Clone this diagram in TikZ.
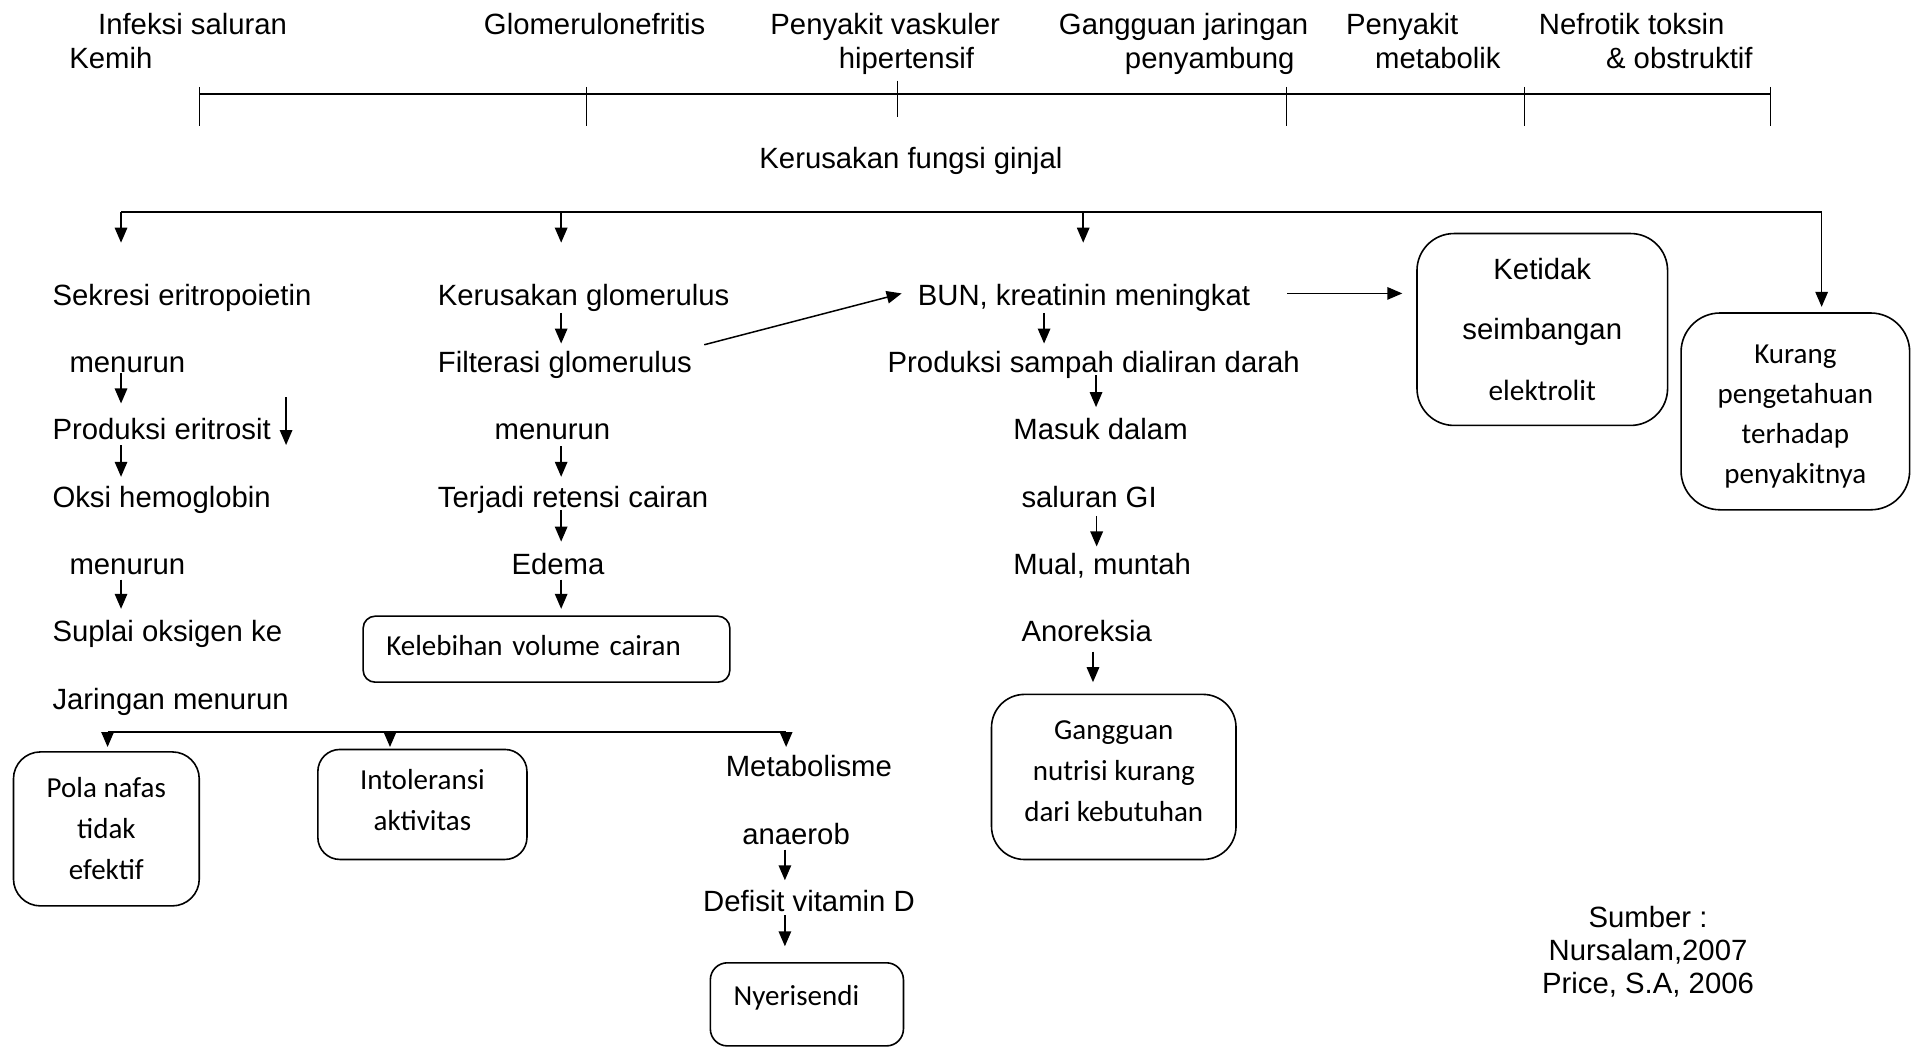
\documentclass[tikz,border=0pt]{standalone}
\usepackage{fontspec}
\setmainfont{Liberation Sans}
\newfontfamily\clbfont{Carlito}
\usetikzlibrary{arrows.meta}
\newcommand\mydp[1]{\rule[-#1]{0pt}{0pt}}
\newcommand\myht[1]{\rule{0pt}{#1}}
\begin{document}
\begin{tikzpicture}[x=1.2226pt,y=-1.2226pt,
  every node/.style={inner sep=0pt},
  lbl/.style={anchor=base west, font=\fontsize{29.3}{34}\selectfont},
  rbox/.style={draw, line width=1.6pt, align=center, font=\clbfont\fontsize{29}{41}\selectfont},
  arr/.style={line width=1.5pt, -{Triangle[length=15pt,width=12.5pt]}},
  bar/.style={line width=2pt},
  tickline/.style={line width=1.1pt}]

\fill[white] (0,0) rectangle (1568,857);
\useasboundingbox (0,0) rectangle (1568,857);

% ---------- top causes ----------
\node[lbl] (t1a) at (80.1,28.6) {Infeksi saluran};
\node[lbl] (t1b) at (56.6,56) {Kemih};
\node[lbl] (t2)  at (395.7,28.6) {Glomerulonefritis};
\node[lbl] (t3a) at (630,28.6) {Penyakit vaskuler};
\node[lbl] (t3b) at (686,56) {hipertensif};
\node[lbl] (t4a) at (866,28.6) {Gangguan jaringan};
\node[lbl] (t4b) at (920,56) {penyambung};
\node[lbl] (t5a) at (1100.8,28.6) {Penyakit};
\node[lbl] (t5b) at (1124.7,56) {metabolik};
\node[lbl] (t6a) at (1258.6,28.6) {Nefrotik toksin};
\node[lbl] (t6b) at (1313.5,56) {\& obstruktif};

\coordinate (tlA) at (163,77);
\coordinate (tlB) at (1448,77);
\draw[bar] (tlA) -- (tlB);
\foreach \x in {163,480,1052,1247,1448}{\draw[tickline] (\x,71) -- (\x,103);}
\draw[tickline] (734,66) -- (734,96);

\node[lbl] (kfg) at (621,137.7) {Kerusakan fungsi ginjal};

% ---------- main branch ----------
\coordinate (brL) at (99,173);
\coordinate (brB) at (459,173);
\coordinate (brC) at (886,173);
\coordinate (brR) at (1490,173);
\draw[bar] (brL) -- (brR);
\coordinate (eA) at (99,198.5);
\coordinate (eB) at (459,198.5);
\coordinate (eC) at (886,198.5);
\coordinate (eD) at (1490,251);
\draw[arr] (brL) -- (eA);
\draw[arr] (brB) -- (eB);
\draw[arr] (brC) -- (eC);
\draw[arr] (brR) -- (eD);

% ---------- left column ----------
\node[lbl] (s1) at (42.8,249.5) {Sekresi eritropoietin};
\node[lbl] (s2) at (56.7,305) {menurun};
\node[lbl] (s3) at (42.8,359.5) {Produksi eritrosit};
\node[lbl] (s4) at (42.8,415) {Oksi hemoglobin};
\node[lbl] (s5) at (56.7,470) {menurun};
\node[lbl] (s6) at (42.8,525) {Suplai oksigen ke};
\node[lbl] (s7) at (42.8,580.7) {Jaringan menurun};

\coordinate (l1s) at (99,305);   \coordinate (l1e) at (99,330);
\coordinate (l2s) at (234,325);  \coordinate (l2e) at (234,364);
\coordinate (l3s) at (99,364);   \coordinate (l3e) at (99,390);
\coordinate (l4s) at (99,474);   \coordinate (l4e) at (99,498);
\draw[arr] (l1s) -- (l1e);
\draw[arr] (l2s) -- (l2e);
\draw[arr] (l3s) -- (l3e);
\draw[arr] (l4s) -- (l4e);

% ---------- middle column ----------
\node[lbl] (m1) at (358,249.5) {Kerusakan glomerulus};
\node[lbl] (m2) at (358,305) {Filterasi glomerulus};
\node[lbl] (m3) at (404.4,359.5) {menurun};
\node[lbl] (m4) at (358,415) {Terjadi retensi cairan};
\node[lbl] (m5) at (418.3,470) {Edema};
\node[rbox, rounded corners=12pt, align=left, text width=320.3pt, inner xsep=23.2pt,
      minimum height=66pt] (kel) at (447,531) {Kelebihan volume cairan\mydp{8pt}};

\coordinate (c1s) at (459,256);  \coordinate (c1e) at (459,281);
\coordinate (c2s) at (459,365);  \coordinate (c2e) at (459,390);
\coordinate (c3s) at (459,417);  \coordinate (c3e) at (459,443);
\coordinate (c4s) at (459,474);  \coordinate (c4e) at (459,498);
\draw[arr] (c1s) -- (c1e);
\draw[arr] (c2s) -- (c2e);
\draw[arr] (c3s) -- (c3e);
\draw[arr] (c4s) -- (c4e);

\coordinate (dgs) at (576,282);  \coordinate (dge) at (737.5,240);
\draw[arr] (dgs) -- (dge);

% ---------- third column ----------
\node[lbl] (b1) at (750.6,249.5) {BUN, kreatinin meningkat};
\node[lbl] (b2) at (725.9,305) {Produksi sampah dialiran darah};
\node[lbl] (b3) at (828.8,359.5) {Masuk dalam};
\node[lbl] (b4) at (835.4,415) {saluran GI};
\node[lbl] (b5) at (828.8,470) {Mual, muntah};
\node[lbl] (b6) at (835.4,525) {Anoreksia};
\node[rbox, rounded corners=33pt, minimum width=244.5pt, minimum height=165.1pt]
   (gang) at (911,635.5) {Gangguan\\nutrisi kurang\\dari kebutuhan\mydp{11.7pt}};

\coordinate (r1s) at (854,256);   \coordinate (r1e) at (854,281);
\coordinate (r2s) at (896.5,307); \coordinate (r2e) at (896.5,333);
\coordinate (r3s) at (897,422);   \coordinate (r3e) at (897,447);
\coordinate (r4s) at (894,533);   \coordinate (r4e) at (894,558);
\draw[arr] (r1s) -- (r1e);
\draw[arr] (r2s) -- (r2e);
\draw[arr] (r3s) -- (r3e);
\draw[arr] (r4s) -- (r4e);

% ---------- right boxes ----------
\node[rbox, rounded corners=37pt, minimum width=250.6pt, minimum height=191.9pt,
      font=\fontsize{29.3}{60.8}\selectfont]
   (keti) at (1261.5,269.5) {Ketidak\\seimbangan\\{\clbfont elektrolit}};
\node[rbox, rounded corners=39pt, minimum width=228.6pt, minimum height=196.8pt,
      font=\clbfont\fontsize{29}{40.1}\selectfont]
   (kur) at (1468.5,336.5) {\myht{29.5pt}Kurang\\pengetahuan\\terhadap\\penyakitnya};

\coordinate (bks) at (1053,240);
\coordinate (bke) at (1147,240);
\draw[arr] (bks) -- (bke);

% ---------- bottom branch ----------
\coordinate (bbL) at (88,599);
\coordinate (bbM) at (319,599);
\coordinate (bbR) at (643,599);
\draw[bar] (bbL) -- (bbR);
\coordinate (bbLe) at (88,611);
\coordinate (bbMe) at (319,611);
\coordinate (bbRe) at (643,611);
\draw[arr] (bbL) -- (bbLe);
\draw[arr] (bbM) -- (bbMe);
\draw[arr] (bbR) -- (bbRe);

\node[rbox, rounded corners=27pt, minimum width=185.8pt, minimum height=154pt]
   (pola) at (87,678) {Pola nafas\\tidak\\efektif};
\node[rbox, rounded corners=22pt, minimum width=209.1pt, minimum height=110pt]
   (into) at (345.5,658) {Intoleransi\\aktivitas\mydp{8.3pt}};

\node[lbl] (d1) at (593.5,635) {Metabolisme};
\node[lbl] (d2) at (607,690.5) {anaerob};
\node[lbl] (d3) at (575,745.5) {Defisit vitamin D};
\node[rbox, rounded corners=17pt, align=left, text width=146.7pt, inner xsep=23.2pt,
      minimum height=83.1pt] (nyeri) at (660,821.5) {Nyerisendi\mydp{17pt}};

\coordinate (v1s) at (642,695);   \coordinate (v1e) at (642,720);
\coordinate (v2s) at (642,748.5); \coordinate (v2e) at (642,774);
\draw[arr] (v1s) -- (v1e);
\draw[arr] (v2s) -- (v2e);

% ---------- source ----------
\node[align=center, font=\fontsize{29.3}{33.4}\selectfont] (src) at (1348,778.5)
   {Sumber :\\Nursalam,2007\\Price, S.A, 2006};
\end{tikzpicture}
\end{document}
